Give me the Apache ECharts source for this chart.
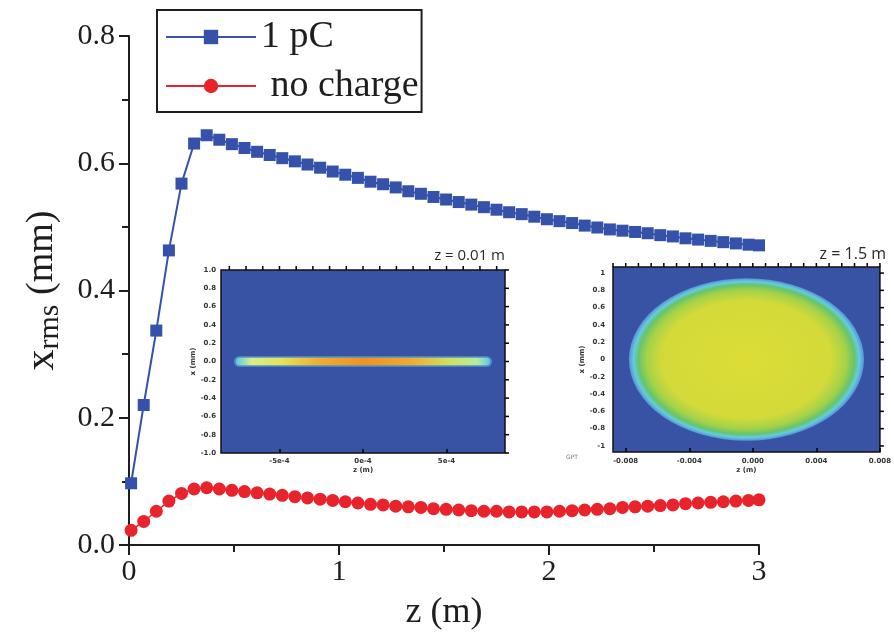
<!DOCTYPE html>
<html>
<head>
<meta charset="utf-8">
<script src="https://cdn.jsdelivr.net/npm/echarts@6/dist/echarts.min.js"></script>
<style>
html, body { margin: 0; padding: 0; background: #fff; }
#main { width: 894px; height: 636px; }
</style>
</head>
<body>
<div id="main"></div>
<script>
// beam position along the line (m)
var zPos = [0.01, 0.07, 0.13, 0.19, 0.25, 0.31, 0.37, 0.43, 0.49, 0.55,
            0.61, 0.67, 0.73, 0.79, 0.85, 0.91, 0.97, 1.03, 1.09, 1.15,
            1.21, 1.27, 1.33, 1.39, 1.45, 1.51, 1.57, 1.63, 1.69, 1.75,
            1.81, 1.87, 1.93, 1.99, 2.05, 2.11, 2.17, 2.23, 2.29, 2.35,
            2.41, 2.47, 2.53, 2.59, 2.65, 2.71, 2.77, 2.83, 2.89, 2.95, 3.00];
// x rms with 1 pC (mm)
var xrms1pC = [0.097, 0.220, 0.337, 0.463, 0.568, 0.631, 0.644, 0.637, 0.630, 0.624,
               0.618, 0.613, 0.608, 0.603, 0.598, 0.593, 0.587, 0.582, 0.577, 0.571,
               0.567, 0.562, 0.556, 0.552, 0.547, 0.543, 0.539, 0.535, 0.531, 0.527,
               0.523, 0.520, 0.516, 0.512, 0.509, 0.506, 0.502, 0.499, 0.496, 0.494,
               0.492, 0.490, 0.487, 0.485, 0.482, 0.480, 0.478, 0.476, 0.474, 0.472, 0.471];
// x rms without space charge (mm)
var xrmsNoCharge = [0.023, 0.037, 0.053, 0.069, 0.081, 0.088, 0.090, 0.088, 0.086, 0.084,
                    0.082, 0.080, 0.078, 0.076, 0.074, 0.072, 0.070, 0.068, 0.066, 0.064,
                    0.063, 0.061, 0.060, 0.059, 0.057, 0.056, 0.055, 0.054, 0.053, 0.053,
                    0.052, 0.052, 0.052, 0.052, 0.053, 0.054, 0.055, 0.056, 0.057, 0.059,
                    0.060, 0.061, 0.062, 0.063, 0.065, 0.066, 0.067, 0.068, 0.069, 0.070, 0.071];

var xTicks = [0, 1, 2, 3];

// inset at z = 0.01 m : thin slab  [zLeft, zRight, xCenter, xHalf]
var slab = [[-7.6e-4, 7.6e-4, 0, 0.04]];
var inset1ZRange = [-8.5e-4, 8.5e-4];
var inset1XRange = [-1, 1];
var inset1ZTicks = [-5e-4, 0, 5e-4];
var inset1ZLabels = ['-5e-4', '0e-4', '5e-4'];
var inset1XTicks = [1, 0.8, 0.6, 0.4, 0.2, 0, -0.2, -0.4, -0.6, -0.8, -1];

// inset at z = 1.5 m : ellipsoid [zCenter, xCenter, zSemi, xSemi]
var bunch = [[-0.0004, 0, 0.0074, 0.94]];
var inset2ZRange = [-0.0088, 0.008];
var inset2XRange = [-1.07, 1.07];
var inset2ZTicks = [-0.008, -0.004, 0, 0.004, 0.008];
var inset2ZLabels = ['-0.008', '-0.004', '0.000', '0.004', '0.008'];
var inset2XTicks = [1, 0.8, 0.6, 0.4, 0.2, 0, -0.2, -0.4, -0.6, -0.8, -1];

var serif = 'Liberation Serif';
var ink = '#1e1e1e';
var blue = '#3551a9';
var red = '#e8232b';
var beamBg = '#3953a4';

// frame ticks on the top edge of the insets
var topTicks1 = [], topTicks2 = [];
for (var t = -8; t <= 8; t++) topTicks1.push(t * 1e-4);
for (var k = -11; k <= 10; k++) topTicks2.push(k * 0.0008);

function pairs(xs, ys) {
    return xs.map(function (x, i) { return [x, ys[i]]; });
}
function atTop(vals, y) { return vals.map(function (v) { return [v, y, 0]; }); }
function atRight(vals, x) { return vals.map(function (v) { return [x, v, 1]; }); }

function renderFrameTick(params, api) {
    var p = api.coord([api.value(0), api.value(1)]);
    var side = api.value(2);
    var shape = side === 0
        ? { x1: p[0], y1: p[1], x2: p[0], y2: p[1] - 4 }
        : { x1: p[0], y1: p[1], x2: p[0] + 4, y2: p[1] };
    return { type: 'line', shape: shape, style: { stroke: '#000', lineWidth: 1.5 } };
}

function renderSlab(params, api) {
    var p1 = api.coord([api.value(0), api.value(2) + api.value(3)]);
    var p2 = api.coord([api.value(1), api.value(2) - api.value(3)]);
    var w = p2[0] - p1[0], h = p2[1] - p1[1];
    return {
        type: 'group',
        children: [{
            type: 'rect',
            shape: { x: p1[0] - 2, y: p1[1] - 1.5, width: w + 4, height: h + 3, r: (h + 3) / 2 },
            style: { fill: 'rgba(110,210,235,0.5)' }
        }, {
            type: 'rect',
            shape: { x: p1[0], y: p1[1], width: w, height: h, r: h / 2 },
            style: {
                fill: {
                    type: 'linear', x: 0, y: 0, x2: 1, y2: 0,
                    colorStops: [
                        { offset: 0, color: '#5cc8ea' },
                        { offset: 0.06, color: '#d6ee8a' },
                        { offset: 0.18, color: '#e6e25a' },
                        { offset: 0.32, color: '#eeb030' },
                        { offset: 0.5, color: '#f0921e' },
                        { offset: 0.68, color: '#eeaa2e' },
                        { offset: 0.84, color: '#cfe060' },
                        { offset: 0.95, color: '#b8ec9a' },
                        { offset: 1, color: '#5cc8ea' }
                    ]
                }
            }
        }]
    };
}

function renderBunch(params, api) {
    var c = api.coord([api.value(0), api.value(1)]);
    var e = api.coord([api.value(0) + api.value(2), api.value(1) + api.value(3)]);
    var rx = e[0] - c[0], ry = c[1] - e[1];
    return {
        type: 'circle',
        x: c[0], y: c[1], scaleX: rx / ry,
        shape: { cx: 0, cy: 0, r: ry },
        style: {
            fill: {
                type: 'radial', x: 0.5, y: 0.5, r: 0.5,
                colorStops: [
                    { offset: 0, color: '#dcdc36' },
                    { offset: 0.72, color: '#d4da3a' },
                    { offset: 0.85, color: '#a4d248' },
                    { offset: 0.92, color: '#66c46c' },
                    { offset: 0.96, color: '#62cde0' },
                    { offset: 1, color: '#5a8fd2' }
                ]
            }
        }
    };
}

var smallLabel = { fontSize: 7, fontWeight: 'bold', color: '#333', fontFamily: 'DejaVu Sans' };
var tickStyle = { color: '#000', width: 1.5 };

function insetAxis(extra) {
    var base = {
        type: 'value', z: 8,
        axisLine: { show: false, onZero: false },
        axisTick: { show: false },
        splitLine: { show: false },
        axisLabel: { show: false }
    };
    return Object.assign(base, extra);
}

var myChart = echarts.init(document.getElementById('main'));
var option = {
    animation: false,
    backgroundColor: '#fff',
    legend: {
        data: ['1 pC', 'no charge'],
        orient: 'vertical',
        left: 157, top: 10,
        padding: [5, 3, 4, 8],
        itemGap: 5,
        itemWidth: 90, itemHeight: 18,
        borderColor: ink, borderWidth: 2,
        backgroundColor: '#fff',
        formatter: function (name) { return name === 'no charge' ? ' no charge' : name; },
        textStyle: { fontFamily: serif, fontSize: 38, color: ink, lineHeight: 44 }
    },
    grid: [
        { left: 129, right: 135, top: 36, bottom: 89 },
        { left: 221, top: 270, width: 284, height: 183, show: true,
          backgroundColor: beamBg, borderColor: '#111', borderWidth: 1.5 },
        { left: 613, top: 267, width: 272, height: 185, show: true,
          backgroundColor: beamBg, borderColor: '#111', borderWidth: 1.5 }
    ],
    xAxis: [{
        type: 'value', gridIndex: 0, min: 0, max: 3, interval: 1,
        axisLine: { lineStyle: { color: ink, width: 2 } },
        axisTick: { length: 10, lineStyle: { color: ink, width: 2 } },
        minorTick: { show: true, splitNumber: 2, length: 7, lineStyle: { color: ink, width: 2 } },
        splitLine: { show: false },
        axisLabel: { fontFamily: serif, fontSize: 30, color: ink, margin: 12,
                     formatter: function (v) { return xTicks.indexOf(v) >= 0 ? String(v) : ''; } },
        name: 'z (m)', nameLocation: 'middle', nameGap: 50,
        nameTextStyle: { fontFamily: serif, fontSize: 36, color: ink }
    }, insetAxis({
        gridIndex: 1, position: 'bottom', min: inset1ZRange[0], max: inset1ZRange[1],
        axisTick: { show: true, inside: true, length: 4, customValues: inset1ZTicks, lineStyle: tickStyle },
        axisLabel: Object.assign({ show: true, margin: 5, customValues: inset1ZTicks,
            formatter: function (v) { return inset1ZLabels[inset1ZTicks.indexOf(v)] || ''; } }, smallLabel),
        name: 'z (m)', nameLocation: 'middle', nameGap: 14,
        nameTextStyle: smallLabel
    }), insetAxis({
        gridIndex: 2, position: 'bottom', min: inset2ZRange[0], max: inset2ZRange[1],
        axisTick: { show: true, inside: true, length: 4, customValues: inset2ZTicks, lineStyle: tickStyle },
        axisLabel: Object.assign({ show: true, margin: 6, customValues: inset2ZTicks,
            formatter: function (v) { return inset2ZLabels[inset2ZTicks.indexOf(v)] || ''; } }, smallLabel),
        name: 'z (m)', nameLocation: 'middle', nameGap: 15,
        nameTextStyle: smallLabel
    })],
    yAxis: [{
        type: 'value', gridIndex: 0, min: 0, max: 0.8, interval: 0.2,
        axisLine: { lineStyle: { color: ink, width: 2 } },
        axisTick: { length: 10, lineStyle: { color: ink, width: 2 } },
        minorTick: { show: true, splitNumber: 2, length: 7, lineStyle: { color: ink, width: 2 } },
        splitLine: { show: false },
        axisLabel: { fontFamily: serif, fontSize: 30, color: ink, margin: 14,
                     formatter: function (v) { return v.toFixed(1); } },
        name: '{x|x}{s|rms} (mm)', nameLocation: 'middle', nameGap: 64,
        nameTextStyle: {
            fontFamily: serif, fontSize: 38, color: ink,
            rich: {
                x: { fontFamily: serif, fontSize: 42, color: ink },
                s: { fontFamily: serif, fontSize: 30, color: ink, verticalAlign: 'bottom', padding: [16, 0, 0, 0] }
            }
        }
    }, insetAxis({
        gridIndex: 1, position: 'left', min: inset1XRange[0], max: inset1XRange[1], interval: 0.2,
        axisLabel: Object.assign({ show: true, margin: 5, formatter: function (v) { return v.toFixed(1); } }, smallLabel),
        name: 'x (mm)', nameLocation: 'middle', nameGap: 22,
        nameTextStyle: smallLabel
    }), insetAxis({
        gridIndex: 2, position: 'left', min: inset2XRange[0], max: inset2XRange[1],
        axisLabel: Object.assign({ show: true, margin: 8, customValues: inset2XTicks }, smallLabel),
        name: 'x (mm)', nameLocation: 'middle', nameGap: 24,
        nameTextStyle: smallLabel
    })],
    series: [{
        name: '1 pC', type: 'line', xAxisIndex: 0, yAxisIndex: 0,
        data: pairs(zPos, xrms1pC),
        symbol: 'rect', symbolSize: 12,
        color: blue,
        lineStyle: { color: blue, width: 2 },
        itemStyle: { color: blue },
        clip: false, z: 3
    }, {
        name: 'no charge', type: 'line', xAxisIndex: 0, yAxisIndex: 0,
        data: pairs(zPos, xrmsNoCharge),
        symbol: 'circle', symbolSize: 13,
        color: red,
        lineStyle: { color: red, width: 1.5 },
        itemStyle: { color: red },
        clip: false, z: 3
    }, {
        type: 'custom', xAxisIndex: 1, yAxisIndex: 1,
        data: slab, renderItem: renderSlab, z: 5
    }, {
        type: 'custom', xAxisIndex: 2, yAxisIndex: 2,
        data: bunch, renderItem: renderBunch, z: 5
    }, {
        type: 'custom', xAxisIndex: 1, yAxisIndex: 1, silent: true, z: 6, clip: false,
        data: atTop(topTicks1, inset1XRange[1]).concat(atRight(inset1XTicks, inset1ZRange[1])),
        renderItem: renderFrameTick
    }, {
        type: 'custom', xAxisIndex: 2, yAxisIndex: 2, silent: true, z: 6, clip: false,
        data: atTop(topTicks2, inset2XRange[1]).concat(atRight(inset2XTicks, inset2ZRange[1])),
        renderItem: renderFrameTick
    }],
    graphic: [{
        type: 'text', right: 894 - 505, top: 248,
        style: { text: 'z = 0.01 m', fontFamily: 'Open Sans', fontSize: 15, fill: '#2a2a2a' }
    }, {
        type: 'text', right: 894 - 886, top: 246,
        style: { text: 'z = 1.5 m', fontFamily: 'Open Sans', fontSize: 16, fill: '#2a2a2a' }
    }, {
        type: 'text', left: 566, top: 454,
        style: { text: 'GPT', fontFamily: 'DejaVu Sans', fontSize: 6, fill: '#777' }
    }]
};
myChart.setOption(option);
</script>
</body>
</html>
